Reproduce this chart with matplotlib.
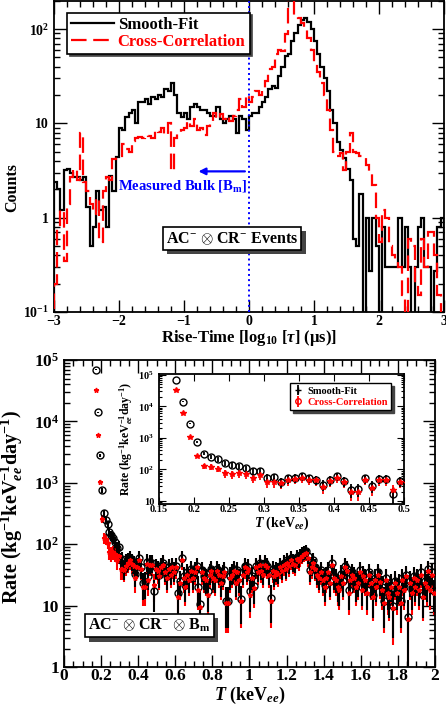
import numpy as np
import matplotlib
matplotlib.use('Agg')
from matplotlib import pyplot as plt
from matplotlib.lines import Line2D
import matplotlib.patheffects as pe

plt.rcParams['font.family'] = ['Liberation Serif', 'DejaVu Serif']
plt.rcParams['font.weight'] = 'bold'
plt.rcParams['axes.labelweight'] = 'bold'
plt.rcParams['mathtext.fontset'] = 'custom'
plt.rcParams['mathtext.rm'] = 'Liberation Serif:bold'
plt.rcParams['mathtext.it'] = 'Liberation Serif:italic:bold'
plt.rcParams['mathtext.bf'] = 'Liberation Serif:bold'
plt.rcParams['axes.unicode_minus'] = True

#-------------------------------------
# Rise-time histograms (bins of 0.05 in log10 tau, -3 .. 3)
#-------------------------------------
rt_edges = np.linspace(-3., 3., 121)
smooth_fit = [2.4, 2.0, 1.2, 3.2, 3.3, 3.0, 2.7, 2.7, 2.5, 2.7,
              1.3, 0.5, 0.8, 1.9, 1.2, 1.3, 0.8, 2.8, 1.9, 4.4,
              9.0, 8.5, 11.7, 13., 14., 10., 17., 17., 18., 16.,
              19., 18., 20., 19., 23., 22., 27., 20., 13., 11.7,
              13., 11., 15., 16., 15., 14., 14., 13., 12., 12.,
              15., 11., 10., 11., 12., 11., 8., 12., 11., 8.5,
              12., 13., 13., 15., 17., 19., 23., 25., 24., 32.,
              40., 52., 55., 75., 90., 110., 125., 130., 118., 100.,
              75., 55., 40., 30., 22., 14., 10., 6.3, 5.2, 4.3,
              3.3, 2.5, 0.6, 0.5, 1.8, 0.01, 1.0, 0.27, 1.0, 0.5,
              0.01, 0.8, 0.3, 0.3, 0.3, 0.3, 1.0, 0.3, 0.8, 0.3,
              0.01, 0.3, 0.8, 1.0, 0.3, 0.3, 0.01, 0.27, 0.8, 1.0]
cross_corr = [0.2, 0.8, 1.2, 0.35, 1.4, 2.7, 3.3, 2.5, 8.0, 2.4,
              1.9, 1.4, 1.1, 1.6, 0.55, 1.9, 2.7, 2.5, 4.2, 4.5,
              4.5, 6.0, 5.4, 5.0, 6.5, 7.0, 7.2, 7.0, 7.5, 7.3,
              7.0, 8.5, 8.2, 9.0, 7.5, 10., 3.1, 7.0, 8.0, 8.5,
              9.0, 10.5, 9.5, 11., 8.5, 9.0, 7.5, 9.5, 10., 13.,
              11., 12.5, 11., 12., 10.5, 12., 14., 18., 15., 20.,
              17., 19., 22., 20., 24., 28., 38., 40., 55., 60.,
              58., 88., 250., 250., 140., 130., 115., 100., 80., 60.,
              45., 35., 27., 20., 14., 8.5, 5.0, 4.5, 4.8, 3.2,
              5.0, 8.0, 5.0, 4.8, 4.5, 4.4, 3.6, 3.0, 2.2, 1.0,
              0.55, 1.2, 1.0, 0.5, 0.4, 0.35, 0.3, 0.15, 0.01, 0.6,
              0.5, 0.2, 0.15, 0.6, 0.3, 0.7, 0.7, 0.4, 0.15, 0.01]

#-------------------------------------
# Rate spectra (0.01 keV bins, 0.175 .. 1.995 keV)
#-------------------------------------
energy = np.round(np.arange(0.175, 2.0, 0.01), 3)
rate_circ = [7e4, 1.4e4, 2.8e3, 750, 320, 250, 210, 160, 140, 125,
             110, 88, 90, 55, 57, 40, 52, 55, 60, 53,
             48, 33, 45, 60, 42, 23, 24, 52, 30, 50,
             50, 17, 42,
             40, 32, 45, 50, 38, 30, 42, 35, 45, 38,
             45, 16, 25, 60, 30, 22, 35, 28, 40, 30,
             38, 45, 20, 10.5, 38, 30, 28, 17, 35, 40,
             30, 28, 40, 35, 25, 33, 38, 12, 12, 30,
             35, 40, 25, 38, 28, 13, 35, 45, 38, 42,
             17, 30, 21, 45, 38, 50, 40, 35, 50, 45,
             35, 13.5, 40, 33, 38, 36, 45, 40, 50, 42,
             55, 48, 60, 52, 50, 62, 58, 65, 70, 75,
             78, 65, 38, 45, 55, 42, 35, 30, 38, 28,
             22, 30, 38, 25, 50, 30, 28, 22, 20, 33,
             25, 45, 40, 18, 28, 35, 30, 22, 25, 38,
             20, 32, 28, 18, 35, 25, 15, 28, 22, 35,
             26, 20, 12, 28, 18, 15, 22, 10, 25, 18,
             22, 12, 28, 20, 32, 6.5, 25, 18, 30, 22,
             28, 20, 35, 15, 25, 22, 40, 20, 35, 17]
rate_star = [3.2e4, 6e3, 1.05e3, 260, 125, 120, 105, 75, 70, 75,
             70, 55, 65, 40, 40, 38, 45, 50, 55, 48,
             45, 28, 42, 55, 40, 20, 20, 48, 26, 46,
             46, 22, 40,
             36, 30, 42, 46, 35, 28, 40, 32, 42, 35,
             42, 14, 23, 55, 28, 20, 32, 26, 37, 28,
             35, 42, 18, 9.5, 35, 28, 26, 15, 32, 37,
             28, 26, 37, 32, 23, 30, 35, 11, 11, 28,
             32, 37, 23, 35, 26, 12, 32, 42, 35, 39,
             15, 28, 19, 42, 35, 46, 37, 32, 46, 42,
             32, 12, 37, 30, 35, 33, 42, 37, 46, 39,
             50, 44, 55, 48, 46, 57, 53, 60, 65, 70,
             72, 60, 35, 42, 50, 39, 32, 28, 35, 26,
             20, 28, 35, 23, 46, 28, 26, 20, 18, 30,
             23, 42, 37, 16, 26, 32, 28, 20, 23, 35,
             18, 30, 26, 16, 32, 23, 14, 26, 20, 32,
             24, 18, 11, 26, 16, 14, 20, 9, 23, 16,
             20, 11, 26, 18, 30, 6, 23, 16, 28, 20,
             26, 18, 32, 14, 23, 20, 37, 18, 32, 16]

rate_circ = np.array(rate_circ, dtype=float)
rate_star = np.array(rate_star, dtype=float)
# statistical errors (counts -> rate)
err_circ = np.sqrt(rate_circ * 5.)
err_star = np.sqrt(rate_star * 5.)

def dec_label(v, pos):
  e = int(round(np.log10(v)))
  if e == 0:
    return '1'
  if e == 1:
    return '10'
  return r'10$^{%d}$' % e

def shadow_box(ax, x, y, s, size, **kw):
  t = ax.text(x, y, s, size=size, zorder=10,
              bbox=dict(boxstyle='square,pad=0.2', fc='white', ec='black', lw=1.2), **kw)
  t.get_bbox_patch().set_path_effects([
      pe.SimplePatchShadow(offset=(3, -3), shadow_rgbFace='#444444', alpha=1.0), pe.Normal()])
  return t

fig = plt.figure(figsize=(4.46, 7.08), dpi=100)

#-------------------------------------
# Top: rise-time distribution
#-------------------------------------
ax1 = fig.add_axes([0.121, 0.5593, 0.8745, 0.4397])
ax1.stairs(np.clip(smooth_fit, 1e-3, None), rt_edges, color='black', lw=1.6, zorder=3)
ax1.stairs(np.clip(cross_corr, 1e-3, None), rt_edges, color='red', lw=1.6,
           ls=(0, (7, 3)), zorder=4)
ax1.set_yscale('log')
ax1.set_xlim(-3., 3.)
ax1.set_ylim(0.1, 200.)
ax1.axvline(0., color='blue', ls=':', lw=1.4, zorder=5)
ax1.annotate('', xy=(-0.82, 3.1), xytext=(-0.02, 3.1),
             arrowprops=dict(arrowstyle='-|>', color='blue', lw=1.6, mutation_scale=10), zorder=6)
ax1.text(-0.03, 2.15, r'Measured Bulk [B$_{\mathrm{m}}$]', color='blue', size=10.5,
         ha='right', va='center')
shadow_box(ax1, -0.26, 0.6, r'AC$^{-}$ $\otimes$ CR$^{-}$ Events', 11.5,
           ha='center', va='center')

h1 = [Line2D([], [], color='black', lw=1.6), Line2D([], [], color='red', lw=1.6, ls=(0, (7, 3)))]
leg = ax1.legend(h1, ['Smooth-Fit', 'Cross-Correlation'], loc='upper left',
                 bbox_to_anchor=(0.033, 0.962), borderaxespad=0., fancybox=False,
                 shadow={'color': '#444444', 'alpha': 1.0}, edgecolor='black', framealpha=1,
                 prop={'size': 12, 'weight': 'bold'}, handlelength=2.6, handletextpad=0.2,
                 labelspacing=0.05, borderpad=0.25)
leg.get_frame().set_linewidth(1.2)
leg.get_texts()[1].set_color('red')

ax1.set_xticks([-3, -2, -1, 0, 1, 2, 3])
ax1.set_xticks(np.arange(-3., 3.01, 0.2), minor=True)
ax1.yaxis.set_major_formatter(plt.FuncFormatter(lambda v, p: {0.1: r'10$^{-1}$', 1: '1', 10: '10', 100: r'10$^{2}$'}.get(round(v, 3), '')))
ax1.tick_params(which='both', direction='in', top=True, right=True, labelsize=10)
ax1.tick_params(which='major', length=9, width=1)
ax1.tick_params(which='minor', length=4.5, width=1)
ax1.tick_params('x', pad=2)
ax1.set_xlabel('Rise-Time [log$_{10}$ [$\\tau$] (\u03bcs)]', size=12, labelpad=0)
ax1.set_ylabel('Counts', size=11.5)
ax1.yaxis.set_label_coords(-0.087, 0.4)
for s in ax1.spines.values():
  s.set_linewidth(1.3)

#-------------------------------------
# Bottom: rate spectrum
#-------------------------------------
ax2 = fig.add_axes([0.1435, 0.0579, 0.8315, 0.4336])

def draw_rates(ax, ms_c, ms_s, lw):
  ax.errorbar(energy, rate_star, yerr=err_star, fmt='none', ecolor='red', elinewidth=lw, zorder=2)
  ax.errorbar(energy, rate_circ, yerr=err_circ, fmt='o', mfc='none', mec='black', mew=1.0,
              ms=ms_c, ecolor='black', elinewidth=lw, zorder=3)
  ax.plot(energy, rate_star, ls='none', marker='*', color='red', ms=ms_s, zorder=4)

draw_rates(ax2, 5.0, 3.5, 1.5)
ax2.set_yscale('log')
ax2.set_xlim(0., 2.)
ax2.set_ylim(1., 1e5)
ax2.set_xticks(np.arange(0., 2.01, 0.2))
ax2.set_xticklabels(['0', '0.2', '0.4', '0.6', '0.8', '1', '1.2', '1.4', '1.6', '1.8', '2'])
ax2.set_xticks(np.arange(0., 2.001, 0.05), minor=True)
ax2.yaxis.set_major_formatter(plt.FuncFormatter(dec_label))
ax2.tick_params(which='both', direction='in', top=True, right=True, labelsize=12.5)
ax2.tick_params(which='major', length=9, width=1)
ax2.tick_params(which='minor', length=4.5, width=1)
ax2.tick_params('x', pad=1)
ax2.set_xlabel(r'$T$ (keV$_{ee}$)', size=13, labelpad=0)
ax2.set_ylabel(r'Rate (kg$^{-1}$keV$_{ee}^{-1}$day$^{-1}$)', size=14.5)
ax2.yaxis.set_label_coords(-0.105, 0.52)
for s in ax2.spines.values():
  s.set_linewidth(1.3)
shadow_box(ax2, 0.065, 0.135, r'AC$^{-}$ $\otimes$ CR$^{-}$ $\otimes$ B$_{\mathrm{m}}$', 11.5,
           transform=ax2.transAxes, ha='left', va='center')

# inset
ax3 = fig.add_axes([0.3565, 0.288, 0.549, 0.1836])
draw_rates(ax3, 5.0, 4.0, 1.3)
ax3.set_yscale('log')
ax3.set_xlim(0.15, 0.5)
ax3.set_ylim(8., 1.05e5)
ax3.set_xticks(np.arange(0.15, 0.501, 0.05))
ax3.set_xticklabels(['0.15', '0.2', '0.25', '0.3', '0.35', '0.4', '0.45', '0.5'])
ax3.yaxis.set_major_formatter(plt.FuncFormatter(dec_label))
ax3.tick_params(which='both', direction='in', top=True, right=True, labelsize=7.5)
ax3.tick_params(which='major', length=5, width=0.8)
ax3.tick_params(which='minor', length=2.5, width=0.8)
ax3.tick_params('x', pad=1)
ax3.set_xlabel(r'$T$ (keV$_{ee}$)', size=10, labelpad=0)
ax3.set_ylabel(r'Rate (kg$^{-1}$keV$_{ee}^{-1}$day$^{-1}$)', size=8.5)
ax3.yaxis.set_label_coords(-0.098, 0.5)
for s in ax3.spines.values():
  s.set_linewidth(1.3)
p1 = ax3.errorbar([np.nan], [np.nan], yerr=[1.], fmt='+', color='black', ms=4, elinewidth=1.3)
p2 = ax3.errorbar([np.nan], [np.nan], yerr=[1.], fmt='o', mfc='none', mec='red', ecolor='red',
                  ms=4, elinewidth=1.3)
leg3 = ax3.legend([p1, p2], ['Smooth-Fit', 'Cross-Correlation'], loc='upper left',
                  bbox_to_anchor=(0.535, 0.93), borderaxespad=0., fancybox=False,
                  shadow={'color': '#444444', 'alpha': 1.0}, edgecolor='black', framealpha=1,
                  prop={'size': 7.5, 'weight': 'bold'}, handlelength=1.0, handletextpad=0.4,
                  labelspacing=0.2, borderpad=0.3)
leg3.get_texts()[1].set_color('red')

plt.savefig('out.png', dpi=100)
